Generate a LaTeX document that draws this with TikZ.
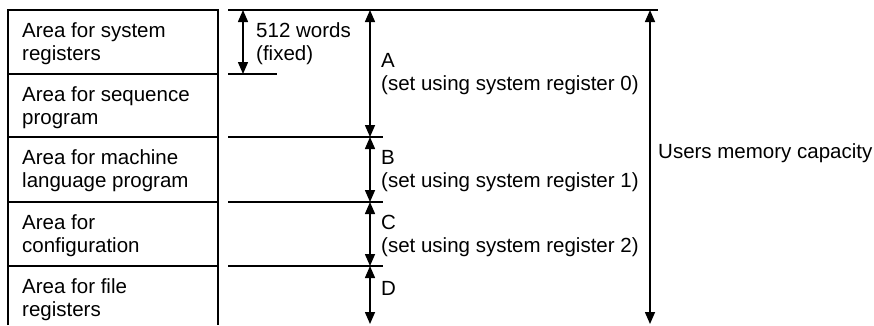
\documentclass[tikz,border=0pt]{standalone}
\usepackage{fontspec}
\setmainfont{Liberation Sans}
\usetikzlibrary{arrows.meta}
\newcommand{\dfs}{\fontsize{20.5pt}{23pt}\selectfont}
\tikzset{
  lbl/.style={anchor=base west, inner sep=0pt, align=left, font=\dfs},
  rule/.style={line width=1.5pt},
  dimarrow/.style={line width=1.5pt, {Triangle[width=10pt,length=12pt]}-{Triangle[width=10pt,length=12pt]}}
}
\begin{document}
\begin{tikzpicture}[x=1pt,y=-1pt]
\useasboundingbox (0,0) rectangle (874,325);
% left column box
\coordinate (bl) at (8,325);
\coordinate (tl) at (8,10);
\coordinate (tr) at (218,10);
\coordinate (br) at (218,325);
\draw[rule] (bl) -- (tl) -- (tr) -- (br);
\foreach \y/\n in {74/1,137/2,202/3,266/4}{
  \coordinate (dl\n) at (8,\y);
  \coordinate (dr\n) at (218,\y);
  \draw[rule] (dl\n) -- (dr\n);
}
% area texts (base = baseline of last line)
\node[lbl] (r1) at (22,60) {Area for system\\registers};
\node[lbl] (r2) at (22,124) {Area for sequence\\program};
\node[lbl] (r3) at (22,187) {Area for machine\\language program};
\node[lbl] (r4) at (22,252) {Area for\\configuration};
\node[lbl] (r5) at (22,316) {Area for file\\registers};
% right-hand rules
\coordinate (t0) at (228,10);
\coordinate (t1) at (658,10);
\draw[rule] (t0) -- (t1);
\coordinate (f0) at (228,74);
\coordinate (f1) at (277,74);
\draw[rule] (f0) -- (f1);
\foreach \y/\n in {137/a,202/b,266/c}{
  \coordinate (h0\n) at (228,\y);
  \coordinate (h1\n) at (383,\y);
  \draw[rule] (h0\n) -- (h1\n);
}
% dimension arrows
\coordinate (w0) at (243,10);
\coordinate (w1) at (243,74);
\draw[dimarrow] (w0) -- (w1);
\coordinate (a0) at (370,10);
\coordinate (a1) at (370,137);
\coordinate (b1) at (370,202);
\coordinate (c1) at (370,266);
\coordinate (d1) at (370,324);
\draw[dimarrow] (a0) -- (a1);
\draw[dimarrow] (a1) -- (b1);
\draw[dimarrow] (b1) -- (c1);
\draw[dimarrow] (c1) -- (d1);
\coordinate (u0) at (650,10);
\coordinate (u1) at (650,324);
\draw[dimarrow] (u0) -- (u1);
% labels
\node[lbl] (w512) at (256,60) {512 words\\(fixed)};
\node[lbl] (la) at (381,90) {A\\(set using system register 0)};
\node[lbl] (lb) at (381,187) {B\\(set using system register 1)};
\node[lbl] (lc) at (381,252) {C\\(set using system register 2)};
\node[lbl] (ld) at (381,295) {D};
\node[lbl] (umc) at (658,158) {Users memory capacity};
\end{tikzpicture}
\end{document}
